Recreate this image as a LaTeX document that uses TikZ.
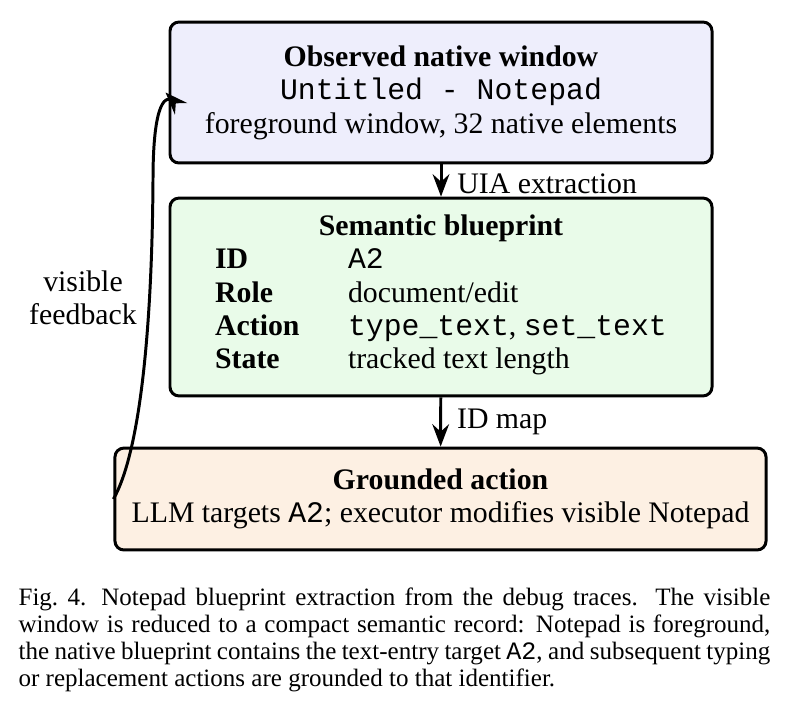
\documentclass[tikz,border=0pt]{standalone}
\usepackage{fontspec}
\setmainfont{Liberation Serif}
\setmonofont{Liberation Mono}
\usetikzlibrary{arrows.meta}
\definecolor{obsfill}{RGB}{238,238,252}
\definecolor{bpfill}{RGB}{233,251,233}
\definecolor{actfill}{RGB}{253,240,227}

\begin{document}
\begin{tikzpicture} [x=0.3356pt, y=-0.3356pt,
                box/.style={draw, line width=1pt, rounded corners=3pt, align=center, inner sep=0pt,
                            font=\fontsize{10}{11.2}\selectfont},
                flow/.style={draw, line width=1pt, -{Stealth[length=7.5pt,width=5.6pt,inset=2.5pt]}}]
                \tikzset{lbl/.style={font=\fontsize{10}{11.2}\selectfont, inner sep=2pt}}
                \useasboundingbox (0,0) rectangle (785,708);
                \node[box, fill=obsfill, minimum width=181.9pt, minimum height=47.3pt] (obs) at (441,92.5)
                    {\textbf{Observed native window}\\ \texttt{Untitled - Notepad}\\ foreground window, 32 native elements};
                \node[box, fill=bpfill, minimum width=181.9pt, minimum height=66.4pt] (bp) at (441,297)
                    {\textbf{Semantic blueprint}\\
                     \begin{tabular}{@{}p{44.6pt}@{}l@{}}
                     \textbf{ID} & \texttt{A2}\\
                     \textbf{Role} & document/edit\\
                     \textbf{Action} & \texttt{type\_text}, \texttt{set\_text}\\
                     \textbf{State} & tracked text length
                     \end{tabular}};
                \node[box, fill=actfill, minimum width=218.5pt, minimum height=34.2pt] (act) at (440.5,499)
                    {\textbf{Grounded action}\\ LLM targets \texttt{A2}; executor modifies visible Notepad};
                \node[lbl, align=center] (fblbl) at (83,298) {visible\\ feedback};
                \draw (obs) edge[flow] node[lbl, right, xshift=3pt, yshift=-1pt] {UIA extraction} (bp);
                \draw (bp) edge[flow] node[lbl, right, xshift=3pt] {ID map} (act);
                % feedback loop back to the window
                \draw[flow] (act.west) .. controls (140,452) and (152,330) .. (153,180)
                    .. controls (153,100) and (166,93) .. ([xshift=-1pt]obs.west);
                \node[anchor=north west, inner sep=0pt, text width=252.3pt, align=justify,
                      font={\fontsize{8.4}{9.06}\selectfont}] (cap) at (18,587)
                    {\hyphenpenalty=10000 \exhyphenpenalty=10000
                     Fig.~4.\hspace{0.6em}Notepad blueprint extraction from the debug traces. The visible window is reduced to a compact semantic record: Notepad is foreground, the native blueprint contains the text-entry target \texttt{A2}, and subsequent typing or replacement actions are grounded to that identifier.};
            \end{tikzpicture}
\end{document}
